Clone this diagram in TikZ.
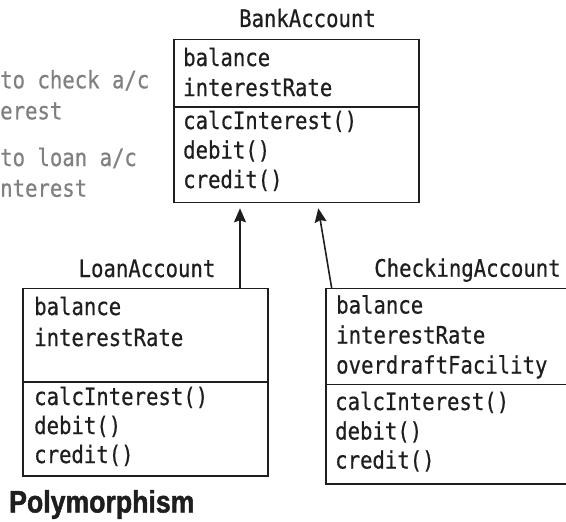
\documentclass[tikz,border=0pt]{standalone}
\usepackage{fontspec}
\newfontfamily\umlfont[FakeStretch=0.86,FakeBold=0.6]{DejaVu Sans Mono}
\newfontfamily\headfont[FakeStretch=0.86,FakeBold=1.5]{Liberation Sans Bold}
\usetikzlibrary{arrows.meta,calc}
\definecolor{ink}{HTML}{1E1E1E}
\definecolor{note}{HTML}{808080}
\begin{document}
\begin{tikzpicture}[x=1pt,y=-1pt,
  umlbox/.style={draw=ink, line width=1.6pt, inner sep=0pt, outer sep=0pt, anchor=north west},
  txt/.style={inner sep=0pt, anchor=base west, text=ink, font=\umlfont\fontsize{24}{29}\selectfont},
  ttl/.style={txt, anchor=base},
  notetxt/.style={txt, text=note},
  divider/.style={draw=ink, line width=1.6pt},
  arr/.style={draw=ink, line width=1.6pt, -{Stealth[length=14pt,width=12pt,inset=2pt]}}
]
\useasboundingbox (0,0) rectangle (566,522);
\clip (0,0) rectangle (566,522);

% notes (cropped at left in the reference)
\node[notetxt] (n1) at (0,88.3) {to check a/c};
\node[notetxt] (n2) at (0,119.3) {erest};
\node[notetxt] (n3) at (0,166) {to loan a/c};
\node[notetxt] (n4) at (0,196.7) {nterest};

% BankAccount
\node[ttl] (bt) at (307.5,27) {BankAccount};
\node[umlbox, minimum width=245pt, minimum height=163pt] (bank) at (174,39.3) {};
\coordinate (bd) at (0,106.7);
\draw[divider] (bank.west |- bd) -- (bank.east |- bd);
\node[txt] (b1) at (183,66) {balance};
\node[txt] (b2) at (183,96) {interestRate};
\node[txt] (b3) at (183,129) {calcInterest()};
\node[txt] (b4) at (183,158.5) {debit()};
\node[txt] (b5) at (183,188) {credit()};

% LoanAccount
\node[ttl] (lt) at (147,277) {LoanAccount};
\node[umlbox, minimum width=245.3pt, minimum height=187.7pt] (loan) at (22.7,288.3) {};
\coordinate (ld) at (0,381.7);
\draw[divider] (loan.west |- ld) -- (loan.east |- ld);
\node[txt] (l1) at (34,315) {balance};
\node[txt] (l2) at (34,346) {interestRate};
\node[txt] (l3) at (34,405) {calcInterest()};
\node[txt] (l4) at (34,434) {debit()};
\node[txt] (l5) at (34,463) {credit()};

% CheckingAccount (cropped at right in the reference)
\node[ttl] (ct) at (467.5,276.7) {CheckingAccount};
\node[umlbox, minimum width=260pt, minimum height=195.7pt] (check) at (326,288.3) {};
\coordinate (cd) at (0,384.3);
\draw[divider] (check.west |- cd) -- (check.east |- cd);
\node[txt] (c1) at (336,313.5) {balance};
\node[txt] (c2) at (336,343.5) {interestRate};
\node[txt] (c3) at (336,373.5) {overdraftFacility};
\node[txt] (c4) at (335,410) {calcInterest()};
\node[txt] (c5) at (335,439.5) {debit()};
\node[txt] (c6) at (335,468.5) {credit()};

% inheritance arrows
\coordinate (ax) at (240,0);
\draw[arr] (loan.north -| ax) -- ($(bank.south -| ax)+(0,6)$);
\draw[arr] ($(check.north west)+(5.7,0)$) -- ($(bank.south west)+(144.3,6)$);

% caption
\node[inner sep=0pt, anchor=base west, text=ink, font=\headfont\fontsize{31}{36}\selectfont] (cap) at (9,512.5) {Polymorphism};
\end{tikzpicture}
\end{document}
